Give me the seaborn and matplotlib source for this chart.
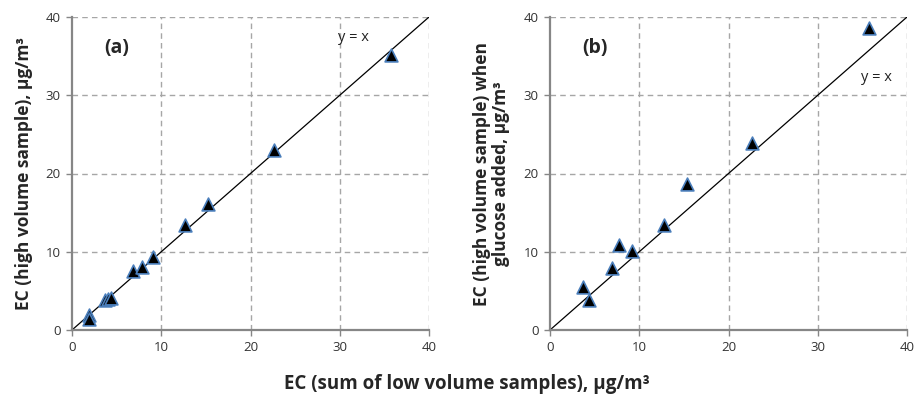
import numpy as np
import pandas as pd
import matplotlib
matplotlib.use("Agg")
import matplotlib.pyplot as plt
import seaborn as sns

# Panel (a): EC low-volume sum vs high-volume
a_x = [1.9, 1.9, 3.7, 4.0, 4.4, 6.8, 7.8, 9.1, 12.7, 15.2, 22.6, 35.7]
a_y = [1.9, 1.4, 3.8, 4.0, 4.1, 7.6, 8.1, 9.3, 13.4, 16.1, 23.0, 35.1]
# Panel (b): with glucose added
b_x = [3.7, 4.4, 7.0, 7.7, 9.2, 12.8, 15.3, 22.6, 35.7]
b_y = [5.5, 3.8, 7.9, 10.9, 10.1, 13.4, 18.6, 23.9, 38.6]

line_vals = [0, 40]
ticks = [0, 10, 20, 30, 40]

sns.set_style("white")
plt.rcParams['font.family'] = ['Open Sans', 'DejaVu Sans']

fig = plt.figure(figsize=(9.14, 3.95), dpi=100)
ax_a = fig.add_axes([72/914, 1-330/395, 357/914, 313/395])
ax_b = fig.add_axes([550/914, 1-330/395, 357/914, 313/395])

line_df = pd.DataFrame({"x": line_vals, "y": line_vals})

for ax, xs, ys in [(ax_a, a_x, a_y), (ax_b, b_x, b_y)]:
    ax.set_xlim(0, 40)
    ax.set_ylim(0, 40)
    ax.set_xticks(ticks)
    ax.set_yticks(ticks)
    for t in ticks[1:]:
        ax.axvline(t, color="#a6a6a6", lw=1, ls=(0, (4, 3)), zorder=0)
        ax.axhline(t, color="#a6a6a6", lw=1, ls=(0, (4, 3)), zorder=0)
    sns.lineplot(data=line_df, x="x", y="y", ax=ax, color="black", lw=0.9, zorder=2)
    df = pd.DataFrame({"x": xs, "y": ys})
    sns.scatterplot(data=df, x="x", y="y", ax=ax, marker="^", s=85,
                    color="black", edgecolor="#4a7ebb", linewidth=1.2, zorder=3)
    for s in ["top", "right"]:
        ax.spines[s].set_visible(False)
    for s in ["left", "bottom"]:
        ax.spines[s].set_color("#868686")
        ax.spines[s].set_linewidth(1.6)
    ax.tick_params(axis="both", which="both", length=4, width=1, color="#868686",
                   labelsize=9.5, labelcolor="#333333", direction="out",
                   bottom=True, left=True, pad=4)
    ax.set_xlabel("")
    ax.set_ylabel("")

ax_a.text(0.09, 0.90, "(a)", transform=ax_a.transAxes, fontsize=14, fontweight="bold",
          ha="left", va="center")
ax_b.text(0.09, 0.90, "(b)", transform=ax_b.transAxes, fontsize=14, fontweight="bold",
          ha="left", va="center")
ax_a.text(31.5, 37.4, "y = x", fontsize=10.5, color="#222222", ha="center", va="center")
ax_b.text(36.6, 32.3, "y = x", fontsize=10.5, color="#222222", ha="center", va="center")

ax_a.set_ylabel("EC (high volume sample), μg/m³", fontsize=12.5, fontweight="bold", labelpad=9)
ax_b.set_ylabel("EC (high volume sample) when\nglucose added, μg/m³", fontsize=12.5,
                fontweight="bold", labelpad=10, linespacing=1.05)
fig.text(467/914, 1-384/395, "EC (sum of low volume samples), μg/m³", fontsize=13.5,
         fontweight="bold", ha="center", va="center")

fig.savefig("out.png", dpi=100)
